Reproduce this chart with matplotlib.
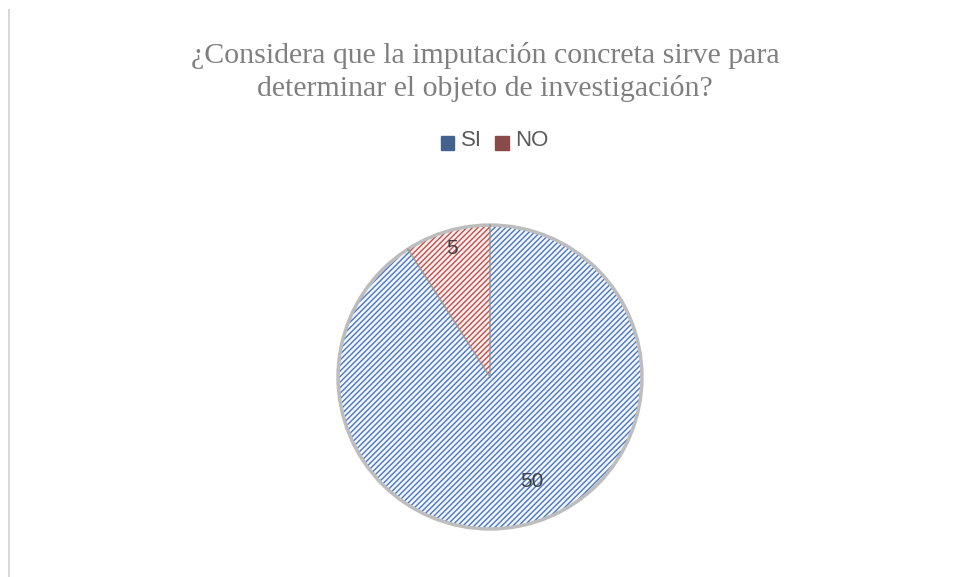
import numpy as np
import matplotlib.pyplot as plt
from matplotlib.lines import Line2D
from matplotlib.legend_handler import HandlerPatch

plt.rcParams["hatch.linewidth"] = 1.0

title = "¿Considera que la imputación concreta sirve para\ndeterminar el objeto de investigación?"
categories = ["SI", "NO"]
values = [50, 5]

face_colors = ["#f2f5fb", "#f9eeee"]
hatch_colors = ["#4a78c0", "#c0504d"]
legend_colors = ["#44618f", "#8b4a4a"]

W, H = 957, 577
fig = plt.figure(figsize=(W / 100, H / 100), dpi=100)

cx, cy, r = 490, 377, 155
ax = fig.add_axes([(cx - r) / W, (H - cy - r) / H, 2 * r / W, 2 * r / H])

wedges, _ = ax.pie(values, startangle=90, counterclock=False, radius=1,
                   wedgeprops=dict(linewidth=0))
for w, fc, hc in zip(wedges, face_colors, hatch_colors):
    w.set_facecolor(fc)
    w.set_hatch("//////")
    w.set_edgecolor(hc)
    w.set_linewidth(0)

# soft outline around the pie
outline = plt.Circle((0, 0), 1.0, fill=False, edgecolor="#bdbdbd", linewidth=2.5)
ax.add_patch(outline)
for w in wedges:
    th = np.deg2rad(w.theta1)
    ax.plot([0, np.cos(th)], [0, np.sin(th)], color="#8c8c8c", lw=1.2, alpha=0.7)

# data labels
label_dist = [0.74, 0.88]
label_shift = [5.6, 0.0]
for w, v, d, s in zip(wedges, values, label_dist, label_shift):
    ang = np.deg2rad((w.theta1 + w.theta2) / 2 + s)
    ax.text(d * np.cos(ang), d * np.sin(ang), str(v), ha="center", va="center",
            fontsize=15, color="#404040", family="Liberation Sans")

ax.set_xlim(-1.02, 1.02)
ax.set_ylim(-1.02, 1.02)
ax.set_aspect("equal")
ax.axis("off")

fig.text(485 / W, 1 - 72 / H, title, ha="center", va="center",
         fontsize=21.5, color="#7f7f7f", family="Liberation Serif", linespacing=1.33)


def low_square(legend, orig_handle, xdescent, ydescent, width, height, fontsize):
    # legend keys sit a bit below the text, like the original
    return plt.Rectangle((-xdescent, -ydescent - 0.35 * height), width, height)


handles = [plt.Rectangle((0, 0), 1, 1, facecolor=c, edgecolor=c, hatch="////")
           for c in legend_colors]
leg = fig.legend(handles, categories, loc="center", bbox_to_anchor=(495 / W, 1 - 140 / H),
                 ncol=2, frameon=False, handlelength=0.6, handleheight=0.6,
                 handletextpad=0.3, columnspacing=0.6,
                 handler_map={plt.Rectangle: HandlerPatch(patch_func=low_square)},
                 prop={"family": "Liberation Sans", "size": 16})
for t in leg.get_texts():
    t.set_color("#595959")

fig.add_artist(Line2D([9 / W, 9 / W], [0, 1 - 10 / H], color="#d9d9d9", lw=1.5))

fig.savefig("out.png", dpi=100, facecolor="white")
